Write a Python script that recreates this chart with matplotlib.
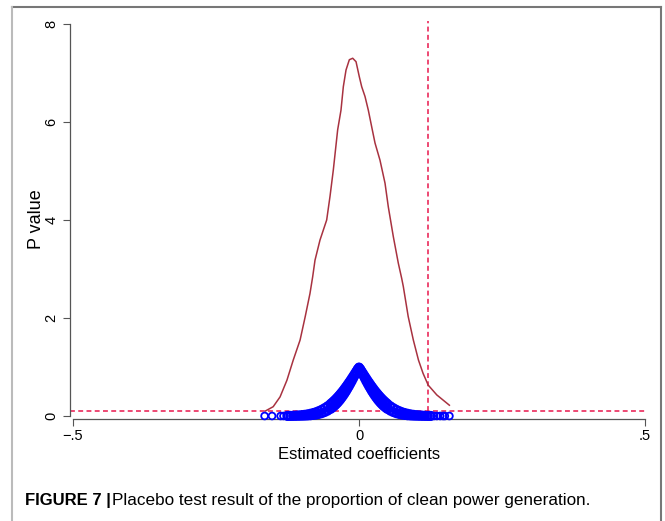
import matplotlib
matplotlib.use('Agg')
import matplotlib.pyplot as plt
from matplotlib.lines import Line2D

plt.rcParams['font.family'] = ['Liberation Sans', 'DejaVu Sans']

# ---------------- data ----------------
# kernel density of the placebo coefficients
dens_x = [-0.164, -0.150, -0.138, -0.126, -0.115, -0.103, -0.094, -0.0857, -0.081, -0.0769,
          -0.0682, -0.0565, -0.0507, -0.0449, -0.0373, -0.0315, -0.0274, -0.0227, -0.0169, -0.011,
          -0.0052, 0.0006, 0.0047, 0.0105, 0.0163, 0.0222, 0.028, 0.0367, 0.0455, 0.0512,
          0.060, 0.0687, 0.0746, 0.0775, 0.086, 0.095, 0.104, 0.112, 0.121, 0.136, 0.158]
dens_y = [0.10, 0.19, 0.39, 0.73, 1.14, 1.55, 2.03, 2.50, 2.84, 3.18,
          3.59, 4.00, 4.48, 5.02, 5.84, 6.24, 6.72, 7.06, 7.27, 7.30,
          7.23, 6.92, 6.72, 6.52, 6.24, 5.90, 5.57, 5.22, 4.75, 4.27,
          3.66, 3.12, 2.81, 2.64, 2.03, 1.55, 1.14, 0.87, 0.63, 0.43, 0.22]

# estimated coefficients of the placebo regressions and their p values
coef = [-0.125, -0.120, -0.115, -0.110, -0.105, -0.100, -0.095, -0.090, -0.085, -0.080,
        -0.075, -0.070, -0.065, -0.060, -0.055, -0.050, -0.0475, -0.045, -0.0425, -0.040,
        -0.0375, -0.035, -0.0325, -0.030, -0.0275, -0.025, -0.0225, -0.020, -0.0175, -0.015,
        -0.0125, -0.010, -0.0075, -0.005, -0.0025, 0.0,
        0.0025, 0.005, 0.0075, 0.010, 0.0125, 0.015, 0.0175, 0.020, 0.0225, 0.025,
        0.0275, 0.030, 0.0325, 0.035, 0.0375, 0.040, 0.0425, 0.045, 0.0475, 0.050,
        0.055, 0.060, 0.065, 0.070, 0.075, 0.080, 0.085, 0.090, 0.095, 0.100,
        0.105, 0.110, 0.115, 0.120, 0.125]
pval_a = [0.0002, 0.0004, 0.0007, 0.001, 0.002, 0.003, 0.005, 0.008, 0.012, 0.019,
          0.027, 0.040, 0.056, 0.078, 0.106, 0.141, 0.163, 0.186, 0.211, 0.239,
          0.270, 0.303, 0.339, 0.378, 0.419, 0.462, 0.508, 0.557, 0.607, 0.659,
          0.713, 0.769, 0.825, 0.883, 0.941, 0.985,
          0.941, 0.883, 0.825, 0.769, 0.713, 0.659, 0.607, 0.557, 0.508, 0.462,
          0.419, 0.378, 0.339, 0.303, 0.270, 0.239, 0.211, 0.186, 0.163, 0.141,
          0.106, 0.078, 0.056, 0.040, 0.027, 0.019, 0.012, 0.008, 0.005, 0.003,
          0.002, 0.001, 0.0007, 0.0004, 0.0002]
pval_b = [0.004, 0.005, 0.008, 0.011, 0.015, 0.020, 0.027, 0.036, 0.048, 0.063,
          0.081, 0.104, 0.131, 0.163, 0.201, 0.245, 0.269, 0.295, 0.323, 0.352,
          0.383, 0.416, 0.450, 0.485, 0.522, 0.561, 0.601, 0.642, 0.684, 0.727,
          0.771, 0.816, 0.862, 0.907, 0.954, 0.990,
          0.954, 0.907, 0.862, 0.816, 0.771, 0.727, 0.684, 0.642, 0.601, 0.561,
          0.522, 0.485, 0.450, 0.416, 0.383, 0.352, 0.323, 0.295, 0.269, 0.245,
          0.201, 0.163, 0.131, 0.104, 0.081, 0.063, 0.048, 0.036, 0.027, 0.020,
          0.015, 0.011, 0.008, 0.005, 0.004]
# isolated extreme coefficients (p about 0)
tail_coef = [-0.165, -0.152, -0.137, -0.132, 0.127, 0.131, 0.136, 0.142, 0.147, 0.150, 0.158]
tail_p = [0.0, 0.0, 0.0, 0.0, 0.0, 0.0, 0.0, 0.0, 0.0, 0.0, 0.0]

true_coef = 0.121      # actual estimate (vertical line)
p_threshold = 0.1      # significance line

x_ticks = [-0.5, 0, 0.5]
x_ticklabels = ['\u2212.5', '0', '.5']
y_ticks = [0, 2, 4, 6, 8]
y_ticklabels = ['0', '2', '4', '6', '8']

# ---------------- figure ----------------
W, H = 665, 521
fig = plt.figure(figsize=(W / 100, H / 100), dpi=100)
ax = fig.add_axes([73 / W, 105 / H, 572 / W, (416 - 21.5) / H])
ax.set_xlim(-0.5, 0.5)
ax.set_ylim(0, 8.05)

for s in ['top', 'right']:
    ax.spines[s].set_visible(False)
for s in ['left', 'bottom']:
    ax.spines[s].set_position(('outward', 2.2))
    ax.spines[s].set_color('#555555')
    ax.spines[s].set_linewidth(0.9)
ax.spines['left'].set_bounds(0, 8)

dash_col = '#e8174d'
ax.vlines(true_coef, p_threshold, 8.05, colors=dash_col, linestyles=(0, (3.2, 2.2)),
          linewidth=1.1, zorder=1)
ax.hlines(p_threshold, -0.505, 0.503, colors=dash_col, linestyles=(0, (3.2, 2.2)),
          linewidth=1.1, zorder=1, clip_on=False)

ax.plot(dens_x, dens_y, color='#a83240', linewidth=1.1, zorder=2, solid_joinstyle='round')

ms = dict(s=30, facecolors='none', edgecolors='#0000ff', linewidths=1.6, zorder=3, clip_on=False)
ax.scatter(coef, pval_a, **ms)
ax.scatter(coef, pval_b, **ms)
ms_t = dict(ms)
ms_t.update(s=24, linewidths=1.3)
ax.scatter(tail_coef, tail_p, **ms_t)

ax.set_xticks(x_ticks)
ax.set_xticklabels(x_ticklabels)
ax.set_yticks(y_ticks)
ax.set_yticklabels(y_ticklabels, rotation=90, va='center')
ax.tick_params(axis='both', length=5, width=0.8, color='#555555', labelsize=10.5)
ax.tick_params(axis='x', pad=2)
ax.tick_params(axis='y', pad=3.5)

ax.set_xlabel('Estimated coefficients', fontsize=12, labelpad=3)
ax.set_ylabel('P value', fontsize=13, labelpad=-0.5)

# outer frame
tr = fig.transFigure
fig.add_artist(Line2D([12 / W, 661 / W], [1 - 7 / H, 1 - 7 / H], transform=tr,
                      color='#777777', linewidth=1.5))
fig.add_artist(Line2D([12 / W, 12 / W], [0, 1 - 7 / H], transform=tr,
                      color='#bbbbbb', linewidth=1.5))
fig.add_artist(Line2D([661 / W, 661 / W], [0, 1 - 7 / H], transform=tr,
                      color='#777777', linewidth=1.5))

# caption
cap_fam = ['Liberation Sans', 'DejaVu Sans']
t1 = fig.text(25 / W, 1 - 500 / H, 'FIGURE 7 |', fontsize=12, fontweight='bold',
              family=cap_fam, va='center', ha='left')
fig.canvas.draw()
bb = t1.get_window_extent(renderer=fig.canvas.get_renderer())
fig.text((bb.x1 + 1.5) / W, 1 - 500 / H,
         'Placebo test result of the proportion of clean power generation.',
         fontsize=12.3, family=cap_fam, va='center', ha='left')

fig.savefig('out.png', dpi=100)
